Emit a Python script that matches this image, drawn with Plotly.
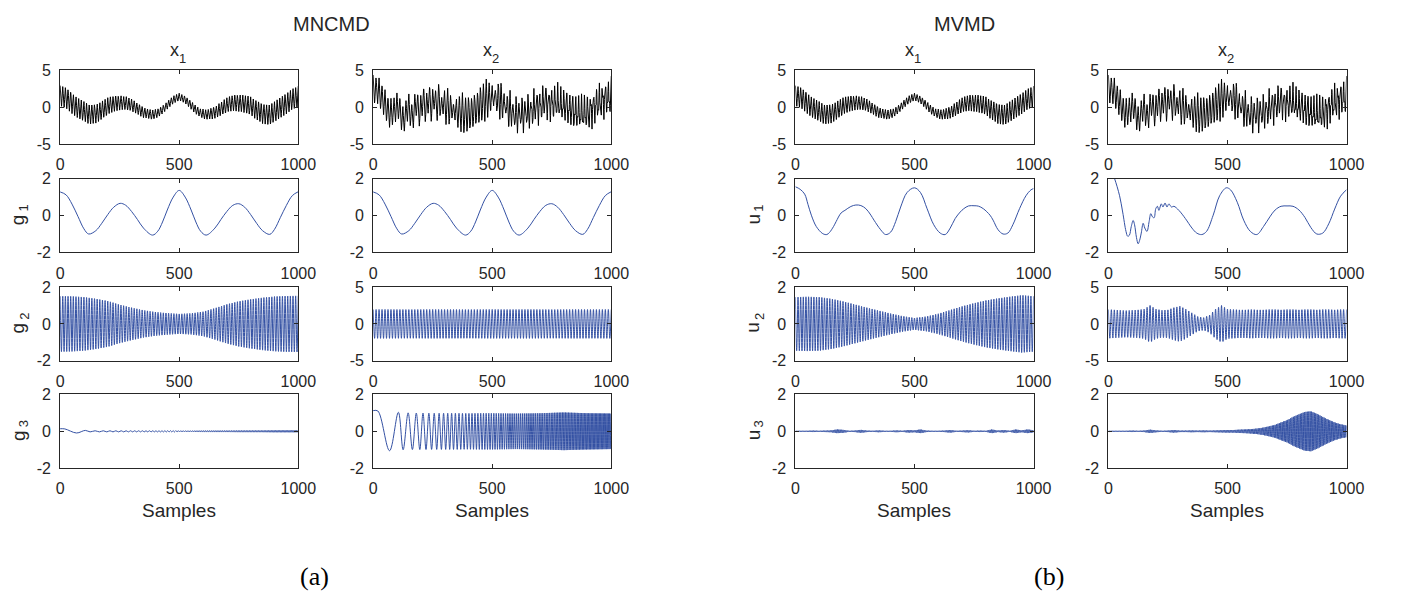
import numpy as np
import plotly.graph_objects as go

# ---------------------------------------------------------------------------
# Signal readings, sample index 0..1000
# ---------------------------------------------------------------------------
sample_ticks = [0, 500, 1000]

# slow component g1 (same shape in both channels)
g1_pos = [0, 25, 50, 75, 100, 120, 150, 175, 200, 225, 252, 275, 300, 325, 350,
          388, 410, 430, 450, 475, 500, 525, 550, 570, 590, 613, 650, 675, 700,
          725, 750, 775, 800, 825, 850, 880, 900, 925, 950, 975, 1000]
g1_x1 = [1.28, 1.12, 0.62, -0.05, -0.72, -1.00, -0.82, -0.42, 0.05, 0.45, 0.66,
         0.56, 0.22, -0.22, -0.68, -1.06, -0.85, -0.35, 0.30, 1.00, 1.36, 1.00,
         0.30, -0.35, -0.85, -1.06, -0.68, -0.22, 0.22, 0.55, 0.64, 0.45, 0.05,
         -0.42, -0.82, -1.02, -0.75, -0.10, 0.55, 1.08, 1.29]
g1_x2 = [1.28, 1.12, 0.62, -0.05, -0.72, -1.00, -0.82, -0.42, 0.05, 0.45, 0.66,
         0.56, 0.22, -0.22, -0.68, -1.06, -0.85, -0.35, 0.30, 1.00, 1.36, 1.00,
         0.30, -0.35, -0.85, -1.06, -0.68, -0.22, 0.22, 0.55, 0.64, 0.45, 0.05,
         -0.42, -0.82, -1.02, -0.75, -0.10, 0.55, 1.08, 1.29]

# envelope sample positions
env_pos_50 = [0, 50, 100, 150, 200, 250, 300, 350, 400, 450, 500, 550, 600, 650,
              700, 750, 800, 850, 900, 950, 1000]
env_pos_25 = [0, 25, 50, 75, 100, 125, 150, 175, 200, 225, 250, 275, 300, 325,
              350, 375, 400, 425, 450, 475, 500, 525, 550, 575, 600, 625, 650,
              675, 700, 725, 750, 775, 800, 825, 850, 875, 900, 925, 950, 975, 1000]

# fast carrier g2: envelope and number of cycles over the record
g2_x1_env = [1.50, 1.49, 1.45, 1.36, 1.24, 1.04, 0.88, 0.74, 0.64, 0.58, 0.54,
             0.57, 0.66, 0.85, 1.06, 1.22, 1.33, 1.42, 1.48, 1.51, 1.52]
g2_x1_cycles = 90
g2_x2_env = [1.95, 1.96, 1.95, 1.94, 1.95, 1.96, 1.95, 1.95, 1.94, 1.95, 1.96,
             1.95, 1.95, 1.96, 1.95, 1.94, 1.95, 1.96, 1.95, 1.95, 1.96]
g2_x2_cycles = 80

# chirp g3: first (slow) crests/troughs, then local half-period and envelope
chirp_lead_pos = [0, 20, 69, 106, 126, 147]
g3_x1_lead = [0.14, 0.13, -0.09, 0.05, -0.03, 0.03]
g3_x2_lead = [1.12, 1.10, -1.05, 1.03, -1.00, 1.00]
chirp_hp_pos = [147, 200, 300, 400, 500, 600, 700, 800, 900, 1000]
chirp_hp = [18.0, 13.0, 8.6, 6.5, 5.2, 4.3, 3.7, 3.2, 2.9, 2.6]
g3_x1_env = [0.03, 0.03, 0.03, 0.03, 0.03, 0.03, 0.03, 0.03, 0.03, 0.035, 0.035,
             0.035, 0.04, 0.04, 0.04, 0.045, 0.045, 0.045, 0.05, 0.05, 0.05]
g3_x2_env = [1.00, 1.00, 1.00, 0.99, 0.99, 0.98, 0.98, 0.98, 0.97, 0.98, 0.98,
             0.97, 0.96, 0.97, 0.98, 1.00, 1.02, 1.00, 0.98, 0.97, 0.96]

# MVMD modes
u1_x1_pos = [0, 20, 39, 53, 67, 88, 115, 132, 143, 160, 171, 192, 208, 233, 254,
             275, 296, 317, 330, 358, 379, 400, 421, 442, 469, 500, 525, 553, 581,
             608, 629, 650, 671, 692, 707, 727, 750, 768, 789, 817, 830, 851, 872,
             892, 913, 941, 968, 989, 1000]
u1_x1 = [1.56, 1.42, 1.16, 0.60, 0.02, -0.60, -0.98, -1.03, -0.92, -0.60, -0.33,
         0.14, 0.28, 0.49, 0.57, 0.54, 0.37, 0.02, -0.25, -0.77, -1.03, -0.90,
         -0.33, 0.46, 1.25, 1.50, 1.25, 0.37, -0.50, -0.95, -1.03, -0.68, -0.16,
         0.19, 0.37, 0.52, 0.53, 0.51, 0.37, 0.02, -0.25, -0.77, -1.00, -0.95,
         -0.50, 0.37, 1.07, 1.39, 1.46]
u1_x2_pos = [0, 15, 26, 47, 60, 74, 81, 88, 96, 104, 110, 118, 125, 131, 138, 146,
             153, 162, 171, 178, 185, 192, 199, 206, 212, 222, 229, 238, 246, 254,
             265, 275, 296, 323, 351, 371, 392, 412, 440, 467, 495, 513, 541, 568,
             596, 623, 651, 678, 700, 725, 750, 775, 800, 825, 850, 875, 900, 925,
             950, 975, 1000]
u1_x2 = [2.80, 2.35, 2.00, 1.07, 0.19, -0.86, -1.12, -1.07, -0.60, -0.27, -0.50,
         -1.20, -1.53, -1.35, -0.95, -0.42, -0.68, -0.86, -0.33, 0.10, -0.07,
         -0.12, 0.37, 0.50, 0.28, 0.63, 0.46, 0.68, 0.46, 0.63, 0.46, 0.50, 0.28,
         -0.16, -0.68, -0.95, -1.03, -0.86, 0.02, 1.07, 1.50, 1.39, 0.72, -0.25,
         -0.86, -1.03, -0.60, -0.07, 0.30, 0.50, 0.52, 0.50, 0.30, -0.10, -0.65,
         -1.00, -0.95, -0.45, 0.35, 1.05, 1.40]

u2_x1_env = [1.45, 1.47, 1.45, 1.36, 1.22, 1.05, 0.88, 0.72, 0.56, 0.42, 0.32,
             0.40, 0.55, 0.75, 0.95, 1.12, 1.27, 1.38, 1.47, 1.55, 1.50]
u2_x1_cycles = 90
u2_x2_env = [1.95, 1.90, 1.85, 1.80, 1.85, 1.90, 2.00, 2.50, 2.00, 1.85, 1.90,
             2.20, 2.40, 2.00, 1.50, 1.00, 0.85, 1.20, 2.00, 2.50, 2.00, 1.95,
             1.90, 1.90, 1.95, 1.90, 1.90, 1.95, 1.95, 1.90, 1.95, 1.95, 1.90,
             1.95, 1.95, 1.90, 1.95, 1.95, 1.90, 1.95, 1.95]
u2_x2_cycles = 80

u3_x1_env = [0.03, 0.03, 0.03, 0.04, 0.03, 0.04, 0.05, 0.10, 0.08, 0.03, 0.04,
             0.08, 0.04, 0.03, 0.05, 0.03, 0.03, 0.05, 0.03, 0.07, 0.05, 0.10,
             0.04, 0.03, 0.03, 0.04, 0.07, 0.03, 0.04, 0.06, 0.03, 0.04, 0.03,
             0.10, 0.04, 0.07, 0.03, 0.10, 0.05, 0.10, 0.06]
u3_x2_env = [0.03, 0.03, 0.03, 0.03, 0.04, 0.03, 0.04, 0.09, 0.05, 0.03, 0.04,
             0.07, 0.04, 0.04, 0.05, 0.04, 0.05, 0.04, 0.05, 0.06, 0.07, 0.07,
             0.09, 0.10, 0.12, 0.15, 0.20, 0.27, 0.35, 0.48, 0.60, 0.78, 0.92,
             1.05, 1.08, 0.95, 0.78, 0.62, 0.48, 0.38, 0.32]
u3_cycles = 170


# ---------------------------------------------------------------------------
# Build crest/trough tracks
# ---------------------------------------------------------------------------
def band(env_pos, env, cycles):
    """Alternating crests/troughs of a steady carrier under a read envelope."""
    n_half = 2 * cycles
    k = np.arange(n_half + 1)
    pos = k * (1000.0 / n_half)
    sign = np.where(k % 2 == 0, 1.0, -1.0)
    return pos, sign * np.interp(pos, env_pos, env)


def chirp(lead_val, env):
    """Chirp crests/troughs: read leading extrema, then read half-periods."""
    pos = list(chirp_lead_pos)
    val = list(lead_val)
    sign = -np.sign(lead_val[-1])
    p = float(chirp_lead_pos[-1])
    while True:
        p += float(np.interp(p, chirp_hp_pos, chirp_hp))
        if p > 1000:
            break
        pos.append(p)
        val.append(sign * float(np.interp(p, env_pos_50, env)))
        sign = -sign
    return np.array(pos), np.array(val)


g2_x1_track = band(env_pos_50, g2_x1_env, g2_x1_cycles)
g2_x2_track = band(env_pos_50, g2_x2_env, g2_x2_cycles)
g3_x1_track = chirp(g3_x1_lead, g3_x1_env)
g3_x2_track = chirp(g3_x2_lead, g3_x2_env)
u2_x1_track = band(env_pos_50, u2_x1_env, u2_x1_cycles)
u2_x2_track = band(env_pos_25, u2_x2_env, u2_x2_cycles)
u3_x1_track = band(env_pos_25, u3_x1_env, u3_cycles)
u3_x2_track = band(env_pos_25, u3_x2_env, u3_cycles)

# observed channels are the sum of their three components, on the sample grid
n = np.arange(1001)
x1 = (np.interp(n, g1_pos, g1_x1) + np.interp(n, *g2_x1_track)
      + np.interp(n, *g3_x1_track))
x2 = (np.interp(n, g1_pos, g1_x2) + np.interp(n, *g2_x2_track)
      + np.interp(n, *g3_x2_track))

# ---------------------------------------------------------------------------
# Figure geometry (pixels)
# ---------------------------------------------------------------------------
W, H = 1401, 608
cols_px = [(57, 299), (375, 617), (804, 1046), (1122, 1364)]
rows_px = [(64, 140), (175.5, 251.5), (287, 363), (397.5, 473.5)]

BLACK = "#000000"
BLUE = "#3451a3"
AXC = "#262626"
FONT = "Liberation Sans, Arial, Helvetica, sans-serif"
SERIF = "Liberation Serif, DejaVu Serif, serif"

panels = {
    (0, 0): (n, x1, BLACK, "linear", 5),
    (0, 1): (n, x2, BLACK, "linear", 5),
    (0, 2): (n, x1, BLACK, "linear", 5),
    (0, 3): (n, x2, BLACK, "linear", 5),
    (1, 0): (g1_pos, g1_x1, BLUE, "spline", 2),
    (1, 1): (g1_pos, g1_x2, BLUE, "spline", 2),
    (1, 2): (u1_x1_pos, u1_x1, BLUE, "spline", 2),
    (1, 3): (u1_x2_pos, u1_x2, BLUE, "spline", 2),
    (2, 0): (*g2_x1_track, BLUE, "spline", 2),
    (2, 1): (*g2_x2_track, BLUE, "spline", 5),
    (2, 2): (*u2_x1_track, BLUE, "spline", 2),
    (2, 3): (*u2_x2_track, BLUE, "spline", 5),
    (3, 0): (*g3_x1_track, BLUE, "spline", 2),
    (3, 1): (*g3_x2_track, BLUE, "spline", 2),
    (3, 2): (*u3_x1_track, BLUE, "spline", 2),
    (3, 3): (*u3_x2_track, BLUE, "spline", 2),
}

fig = go.Figure()
layout_axes = {}
idx = 0
for r in range(4):
    for c in range(4):
        idx += 1
        xs, ys, color, shape, lim = panels[(r, c)]
        sfx = "" if idx == 1 else str(idx)
        fig.add_trace(go.Scatter(
            x=xs, y=ys, mode="lines",
            line=dict(color=color, width=1, shape=shape),
            xaxis="x" + sfx, yaxis="y" + sfx,
            hoverinfo="skip", showlegend=False,
        ))
        l, rr = cols_px[c]
        t, b = rows_px[r]
        common = dict(
            showline=True, linecolor=AXC, linewidth=1, mirror="ticks",
            ticks="inside", ticklen=4, tickwidth=1, tickcolor=AXC,
            showgrid=False, zeroline=False, fixedrange=True,
            tickfont=dict(family=FONT, size=16, color=AXC),
        )
        layout_axes["xaxis" + sfx] = dict(
            common, domain=[l / W, rr / W], range=[0, 1000],
            tickvals=sample_ticks, ticktext=[str(v) for v in sample_ticks],
            anchor="y" + sfx, ticklabelstandoff=6,
        )
        layout_axes["yaxis" + sfx] = dict(
            common, domain=[1 - b / H, 1 - t / H], range=[-lim, lim],
            tickvals=[-lim, 0, lim], ticktext=[f"-{lim}", "0", f"{lim}"],
            anchor="x" + sfx, ticklabelstandoff=5,
        )

fig.update_layout(**layout_axes)


def ann(text, px, py, size, angle=0, family=FONT, color=AXC):
    return dict(text=text, x=px / W, y=1 - py / H, xref="paper", yref="paper",
                showarrow=False, xanchor="center", yanchor="middle",
                textangle=angle, font=dict(family=family, size=size, color=color))


annotations = [
    ann("MNCMD", 333, 16, 20),
    ann("MVMD", 976, 16, 20),
    ann("(a)", 315, 585, 26, family=SERIF, color="#000000"),
    ann("(b)", 1062, 585, 26, family=SERIF, color="#000000"),
]
# column headings x1 / x2 with a lowered index digit
for c, digit in enumerate(["1", "2", "1", "2"]):
    l, rr = cols_px[c]
    mid = (l + rr) / 2
    annotations.append(ann("x", mid - 5, 43, 18))
    annotations.append(ann(digit, mid + 3.5, 52, 13))
    annotations.append(ann("Samples", mid, 517, 19))
# rotated row labels g_k / u_k
for r in range(1, 4):
    t, b = rows_px[r]
    mid = (t + b) / 2
    for c, letter in ((0, "g"), (2, "u")):
        left = cols_px[c][0]
        annotations.append(ann(letter, left - 43, mid + 4, 19, angle=-90))
        annotations.append(ann(str(r), left - 37, mid - 8, 13, angle=-90))

fig.update_layout(
    width=W, height=H, autosize=False,
    margin=dict(l=0, r=0, t=0, b=0),
    paper_bgcolor="white", plot_bgcolor="white",
    annotations=annotations,
)

fig.write_html("out.html", config={"displayModeBar": False, "staticPlot": True})
